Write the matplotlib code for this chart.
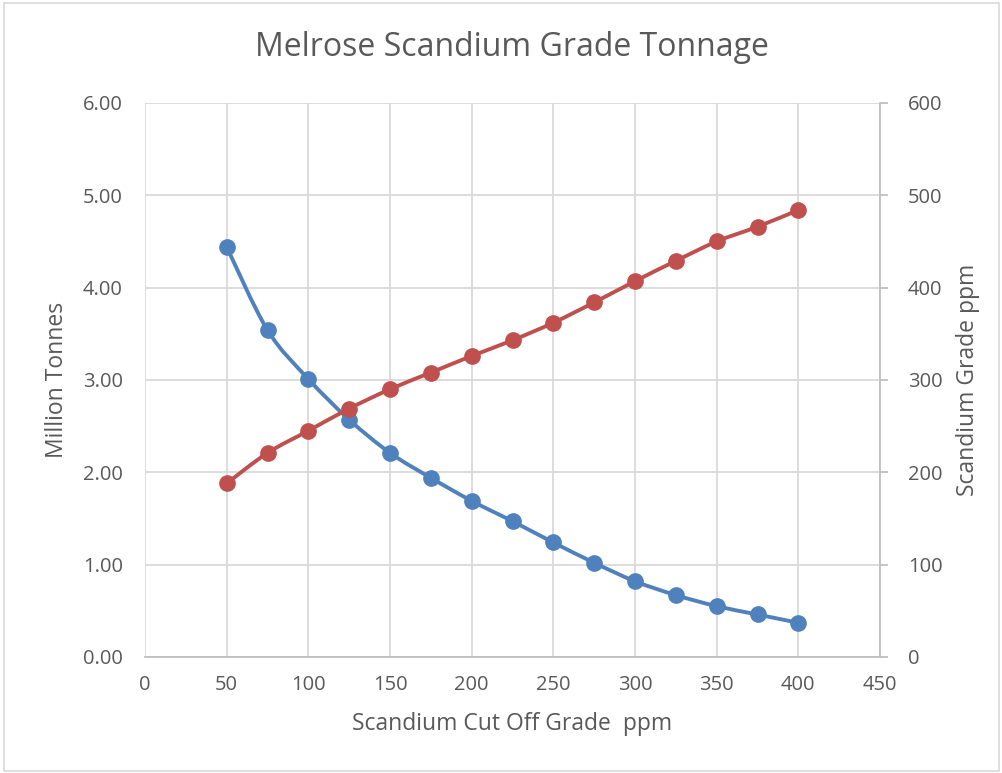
import matplotlib
matplotlib.use("Agg")
import matplotlib.pyplot as plt
from matplotlib.path import Path
from matplotlib.patches import PathPatch, Rectangle

# data
cutoff = [50, 75, 100, 125, 150, 175, 200, 225, 250, 275, 300, 325, 350, 375, 400]
tonnes = [4.44, 3.54, 3.01, 2.57, 2.21, 1.94, 1.69, 1.47, 1.24, 1.02, 0.82, 0.67, 0.55, 0.46, 0.37]
grade = [188, 221, 245, 269, 290, 308, 326, 343, 362, 384, 407, 429, 450, 466, 484]

blue = "#4f81bd"
red = "#c0504d"
txt = "#595959"
grid = "#d9d9d9"

plt.rcParams["font.family"] = ["Open Sans", "DejaVu Sans"]


def smooth_path(xs, ys):
    # Excel style smoothed line: cardinal spline drawn as cubic beziers
    verts = [(xs[0], ys[0])]
    codes = [Path.MOVETO]
    n = len(xs)
    for i in range(n - 1):
        x0, y0 = (xs[i - 1], ys[i - 1]) if i > 0 else (xs[i], ys[i])
        x1, y1 = xs[i], ys[i]
        x2, y2 = xs[i + 1], ys[i + 1]
        x3, y3 = (xs[i + 2], ys[i + 2]) if i + 2 < n else (x2, y2)
        t = 1 / 6
        verts += [(x1 + (x2 - x0) * t, y1 + (y2 - y0) * t),
                  (x2 - (x3 - x1) * t, y2 - (y3 - y1) * t),
                  (x2, y2)]
        codes += [Path.CURVE4] * 3
    return Path(verts, codes)


fig = plt.figure(figsize=(10.03, 7.73), dpi=100)
ax = fig.add_axes([0.1446, 0.1501, 0.7328, 0.7167])
ax2 = ax.twinx()

ax.set_xlim(0, 450)
ax.set_ylim(0, 6)
ax2.set_ylim(0, 600)
ax.set_xticks(range(0, 451, 50))
ax.set_yticks([0, 1, 2, 3, 4, 5, 6])
ax.set_yticklabels([f"{v:.2f}" for v in [0, 1, 2, 3, 4, 5, 6]])
ax2.set_yticks(range(0, 601, 100))

ax.grid(True, color=grid, lw=1.3)
ax.set_axisbelow(True)

for a in (ax, ax2):
    for s in a.spines.values():
        s.set_visible(False)
ax.spines["bottom"].set_visible(True)
ax.spines["bottom"].set_color("#bfbfbf")
ax.spines["bottom"].set_linewidth(1.3)
ax2.spines["right"].set_visible(True)
ax2.spines["right"].set_color("#bfbfbf")
ax2.spines["right"].set_linewidth(1.3)

ax.tick_params(axis="both", length=0, labelsize=14.5, colors=txt)
ax.tick_params(axis="x", pad=13)
ax.tick_params(axis="y", pad=16)
ax2.tick_params(axis="y", length=6, color="#bfbfbf", width=1.3, labelsize=14.5,
                colors=txt, pad=14)

ax.add_patch(PathPatch(smooth_path(cutoff, tonnes), fill=False, ec=blue, lw=2.8, zorder=3))
ax.plot(cutoff, tonnes, "o", color=blue, ms=11, zorder=4)
ax2.add_patch(PathPatch(smooth_path(cutoff, grade), fill=False, ec=red, lw=2.8, zorder=3))
ax2.plot(cutoff, grade, "o", color=red, ms=11, zorder=4)

ax.set_xlabel("Scandium Cut Off Grade  ppm", fontsize=16.5, color=txt, labelpad=12)
ax.set_ylabel("Million Tonnes", fontsize=16.5, color=txt, labelpad=10)
ax2.set_ylabel("Scandium Grade ppm", fontsize=16.5, color=txt, labelpad=10)
fig.text(0.51, 0.938, "Melrose Scandium Grade Tonnage", ha="center", va="center",
         fontsize=23, color=txt)

fig.patches.append(Rectangle((0.004, 0.003), 0.992, 0.993, transform=fig.transFigure,
                             fill=False, ec="#d9d9d9", lw=1.2))

fig.savefig("out.png", dpi=100)
